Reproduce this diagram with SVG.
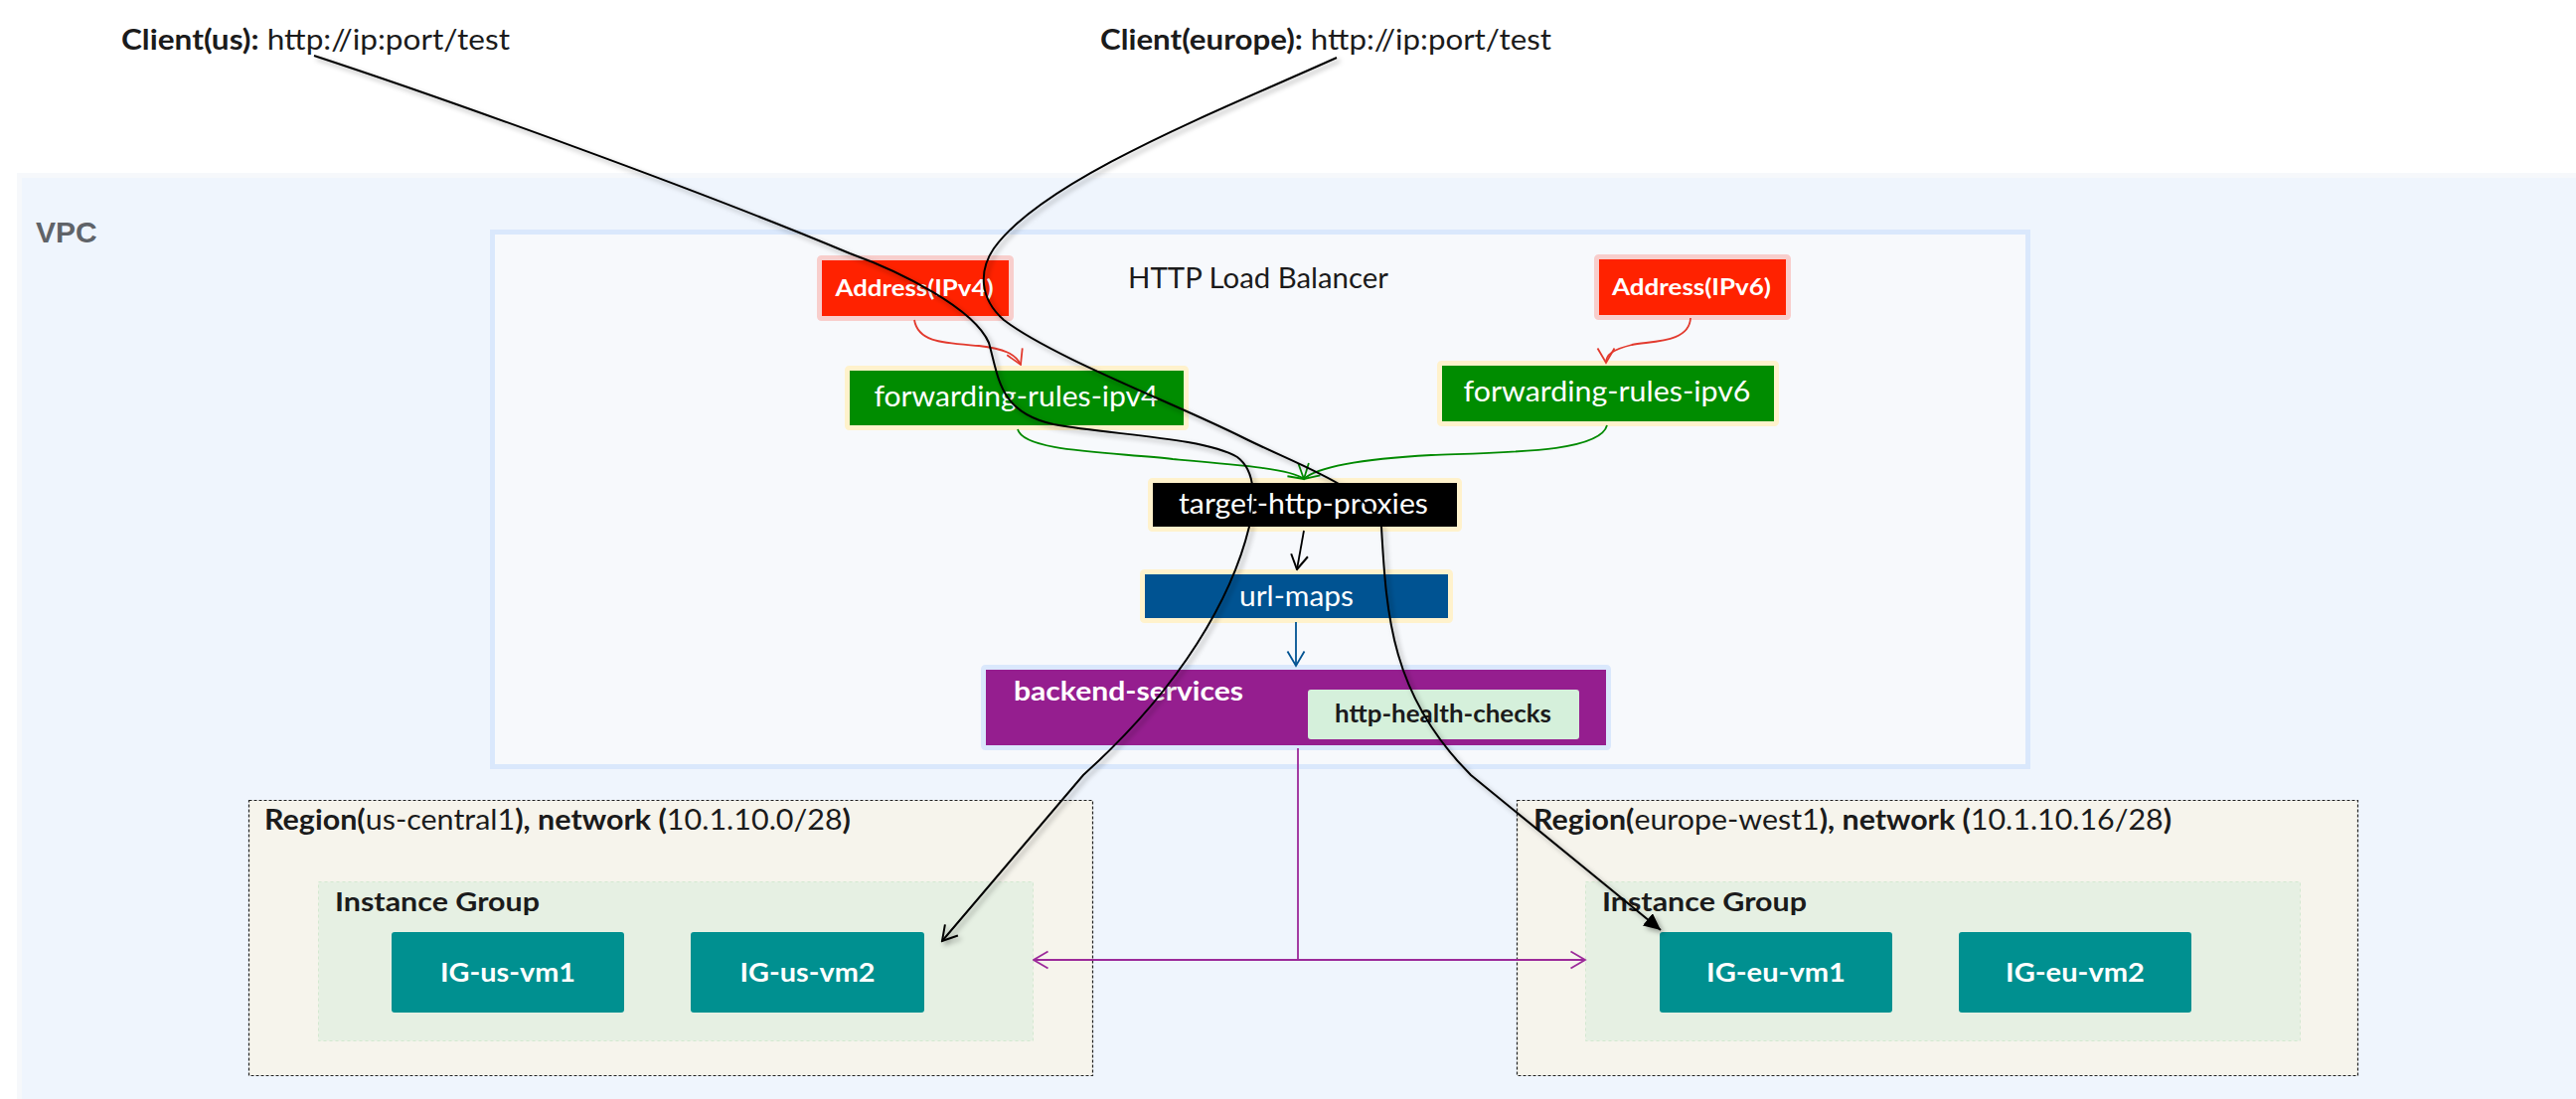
<svg xmlns="http://www.w3.org/2000/svg" width="2592" height="1106" viewBox="0 0 2592 1106">
<defs>
<style>
text{font-family:Lato,"Open Sans","Noto Sans",sans-serif;}
.lbl{fill:#1b1b1b;font-size:28px;}
.b{font-weight:bold;}
.w{fill:#fff;}
.node{stroke-width:5;}
.ig{fill:#009090;}
.region{fill:#f6f4ec;stroke:#222;stroke-width:1.2;stroke-dasharray:3 2;}
.igroup{fill:#e6f0e3;stroke:#d3e8d0;stroke-width:1;stroke-dasharray:3 3;}
.curve{fill:none;stroke:#000;stroke-width:2;}
.thin{fill:none;stroke-width:1.8;}
</style>
<filter id="sh" x="-10%" y="-10%" width="120%" height="120%">
<feDropShadow dx="3" dy="3" stdDeviation="2.5" flood-color="#000" flood-opacity="0.35"/>
</filter>
<marker id="mBlack" viewBox="0 0 17 20" refX="15.5" refY="10" markerWidth="17" markerHeight="20" markerUnits="userSpaceOnUse" orient="auto"><path d="M1,1.5 L15.5,10 L1,18.5" fill="none" stroke="#000" stroke-width="2"/></marker>
<marker id="mFill" viewBox="0 0 18 16" refX="17" refY="8" markerWidth="18" markerHeight="16" markerUnits="userSpaceOnUse" orient="auto"><path d="M0,0 L17,8 L0,16 Z" fill="#000"/></marker>
<marker id="mRed" viewBox="0 0 17 20" refX="15.5" refY="10" markerWidth="17" markerHeight="20" markerUnits="userSpaceOnUse" orient="auto"><path d="M1,1.5 L15.5,10 L1,18.5" fill="none" stroke="#e23a2e" stroke-width="1.8"/></marker>
<marker id="mGreen" viewBox="0 0 17 20" refX="15.5" refY="10" markerWidth="17" markerHeight="20" markerUnits="userSpaceOnUse" orient="auto"><path d="M1,1.5 L15.5,10 L1,18.5" fill="none" stroke="#008a00" stroke-width="1.8"/></marker>
<marker id="mBlue" viewBox="0 0 17 20" refX="15.5" refY="10" markerWidth="17" markerHeight="20" markerUnits="userSpaceOnUse" orient="auto"><path d="M1,1.5 L15.5,10 L1,18.5" fill="none" stroke="#005392" stroke-width="1.8"/></marker>
<marker id="mPurple" viewBox="0 0 17 20" refX="15.5" refY="10" markerWidth="17" markerHeight="20" markerUnits="userSpaceOnUse" orient="auto"><path d="M1,1.5 L15.5,10 L1,18.5" fill="none" stroke="#9c2a9a" stroke-width="1.8"/></marker>
</defs>
<rect width="2592" height="1106" fill="#ffffff"/>

<g id="vpc">
<rect x="19.5" y="176.5" width="2600" height="940" fill="#eff5fd" stroke="#f6f8fb" stroke-width="5"/>
<text x="36" y="244" style="font-family:'Liberation Sans',Arial,sans-serif;font-weight:bold;font-size:30px;fill:#5f6368">VPC</text>
</g>

<g id="client-us">
<text class="lbl" x="122" y="50" textLength="391" lengthAdjust="spacingAndGlyphs"><tspan class="b">Client(us):</tspan> http://ip:port/test</text>
</g>
<g id="client-europe">
<text class="lbl" x="1107" y="50" textLength="454" lengthAdjust="spacingAndGlyphs"><tspan class="b">Client(europe):</tspan> http://ip:port/test</text>
</g>

<g id="http-load-balancer">
<rect x="495.5" y="233.5" width="1545" height="538" fill="#f7f9fc" stroke="#dae8fc" stroke-width="5"/>
<text class="lbl" x="1135" y="290" textLength="262" lengthAdjust="spacingAndGlyphs">HTTP Load Balancer</text>
</g>

<g id="address-ipv4">
<rect class="node" x="824.5" y="259.5" width="193" height="61" rx="2" fill="#ff2200" stroke="#f8cecc"/>
<text class="b w" x="920" y="298" font-size="23" text-anchor="middle" textLength="159" lengthAdjust="spacingAndGlyphs">Address(IPv4)</text>
</g>
<g id="address-ipv6">
<rect class="node" x="1606.5" y="258.5" width="193" height="61" rx="2" fill="#ff2200" stroke="#f8cecc"/>
<text class="b w" x="1702" y="297" font-size="23" text-anchor="middle" textLength="160" lengthAdjust="spacingAndGlyphs">Address(IPv6)</text>
</g>

<g id="forwarding-rules-ipv4">
<rect class="node" x="852.5" y="370.5" width="341" height="60" rx="2" fill="#008c00" stroke="#fff2cc"/>
<text class="w" x="1022.5" y="409" font-size="28" text-anchor="middle" textLength="286" lengthAdjust="spacingAndGlyphs">forwarding-rules-ipv4</text>
</g>
<g id="forwarding-rules-ipv6">
<rect class="node" x="1448.5" y="365.5" width="339" height="61" rx="2" fill="#008c00" stroke="#fff2cc"/>
<text class="w" x="1617" y="404" font-size="28" text-anchor="middle" textLength="289" lengthAdjust="spacingAndGlyphs">forwarding-rules-ipv6</text>
</g>

<g id="target-http-proxies">
<rect class="node" x="1157.5" y="483.5" width="311" height="49" rx="2" fill="#000" stroke="#fff2cc"/>
<text class="w" x="1311.5" y="517" font-size="28" text-anchor="middle" textLength="251" lengthAdjust="spacingAndGlyphs">target-http-proxies</text>
</g>

<g id="url-maps">
<rect class="node" x="1149.5" y="575.5" width="310" height="49" rx="2" fill="#005392" stroke="#fff2cc"/>
<text class="w" x="1304.5" y="610" font-size="28" text-anchor="middle" textLength="115" lengthAdjust="spacingAndGlyphs">url-maps</text>
</g>

<g id="backend-services">
<rect class="node" x="989.5" y="671.5" width="629" height="81" rx="2" fill="#951e8f" stroke="#dae8fc"/>
<text class="b w" x="1020" y="705" font-size="27" textLength="231" lengthAdjust="spacingAndGlyphs">backend-services</text>
</g>
<g id="http-health-checks">
<rect x="1316" y="694" width="273" height="50" rx="3" fill="#d5f0db"/>
<text class="b" x="1452" y="727" font-size="24" fill="#1b1b1b" text-anchor="middle" textLength="218" lengthAdjust="spacingAndGlyphs">http-health-checks</text>
</g>

<g id="region-us">
<rect class="region" x="250.5" y="805.5" width="849" height="277"/>
<text class="lbl" x="266" y="835" textLength="590" lengthAdjust="spacingAndGlyphs"><tspan class="b">Region(</tspan>us-central1<tspan class="b">), network (</tspan>10.1.10.0/28<tspan class="b">)</tspan></text>
</g>
<g id="instance-group-us">
<rect class="igroup" x="320.5" y="887.5" width="719" height="160"/>
<text class="lbl b" x="337" y="917" font-size="26" style="font-size:26px" textLength="206" lengthAdjust="spacingAndGlyphs">Instance Group</text>
</g>
<g id="ig-us-vm1">
<rect class="ig" x="394" y="938" width="234" height="81" rx="3"/>
<text class="b w" x="511" y="988" font-size="27" text-anchor="middle" textLength="136" lengthAdjust="spacingAndGlyphs">IG-us-vm1</text>
</g>
<g id="ig-us-vm2">
<rect class="ig" x="695" y="938" width="235" height="81" rx="3"/>
<text class="b w" x="812.5" y="988" font-size="27" text-anchor="middle" textLength="136" lengthAdjust="spacingAndGlyphs">IG-us-vm2</text>
</g>

<g id="region-eu">
<rect class="region" x="1526.5" y="805.5" width="846" height="277"/>
<text class="lbl" x="1543" y="835" textLength="642" lengthAdjust="spacingAndGlyphs"><tspan class="b">Region(</tspan>europe-west1<tspan class="b">), network (</tspan>10.1.10.16/28<tspan class="b">)</tspan></text>
</g>
<g id="instance-group-eu">
<rect class="igroup" x="1595.5" y="887.5" width="719" height="160"/>
<text class="lbl b" x="1612" y="917" style="font-size:26px" textLength="206" lengthAdjust="spacingAndGlyphs">Instance Group</text>
</g>
<g id="ig-eu-vm1">
<rect class="ig" x="1670" y="938" width="234" height="81" rx="3"/>
<text class="b w" x="1787" y="988" font-size="27" text-anchor="middle" textLength="140" lengthAdjust="spacingAndGlyphs">IG-eu-vm1</text>
</g>
<g id="ig-eu-vm2">
<rect class="ig" x="1971" y="938" width="234" height="81" rx="3"/>
<text class="b w" x="2088" y="988" font-size="27" text-anchor="middle" textLength="140" lengthAdjust="spacingAndGlyphs">IG-eu-vm2</text>
</g>

<g id="connectors">
<path class="thin" stroke="#e23a2e" d="M920,322 C924,345 950,345 985,348 C1010,351 1022,356 1027,367" marker-end="url(#mRed)"/>
<path class="thin" stroke="#e23a2e" d="M1701,320 C1700,345 1662,343 1642,347 C1622,352 1616,357 1616,365" marker-end="url(#mRed)"/>
<path class="thin" stroke="#008a00" d="M1024,432 C1030,455 1120,455 1180,462 C1250,468 1300,472 1312,482" marker-end="url(#mGreen)"/>
<path class="thin" stroke="#008a00" d="M1617,428 C1610,455 1520,455 1440,458 C1370,462 1325,470 1312,482" marker-end="url(#mGreen)"/>
<path class="thin" stroke="#000" d="M1312,534 L1305,573" marker-end="url(#mBlack)"/>
<path class="thin" stroke="#005392" d="M1304,626 L1304,670" marker-end="url(#mBlue)"/>
<path class="thin" stroke="#9c2a9a" d="M1306,753 V966 H1040" marker-end="url(#mPurple)"/>
<path class="thin" stroke="#9c2a9a" d="M1306,966 H1595" marker-end="url(#mPurple)"/>
<g filter="url(#sh)">
<path class="curve" d="M316,56 C450,100 700,190 855,255 C905,273 980,310 995,345 C1005,380 1005,415 1060,427 C1120,438 1210,440 1245,460 C1265,475 1262,505 1257,530 C1240,600 1190,690 1090,780 L948,947" marker-end="url(#mBlack)"/>
<path class="curve" d="M1345,58 C1230,110 1050,180 1000,250 C985,272 985,300 1010,322 C1060,360 1180,405 1250,440 C1310,470 1375,490 1390,530 C1395,620 1400,700 1480,780 L1671,936" marker-end="url(#mFill)"/>
</g>
</g>
</svg>
